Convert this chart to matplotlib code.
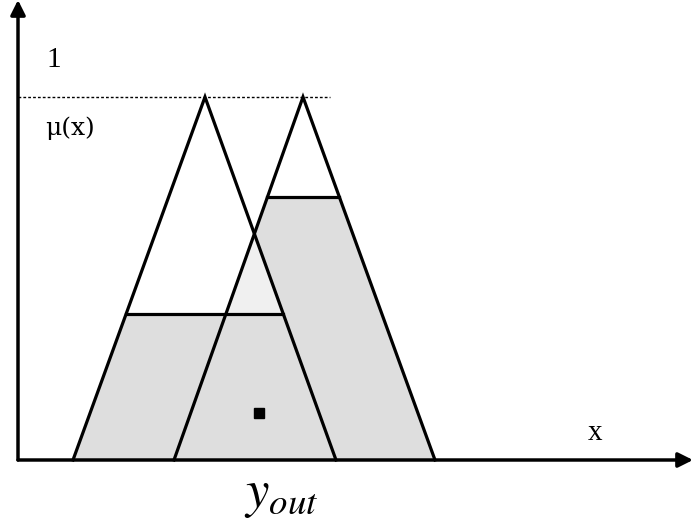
import matplotlib.pyplot as plt
from matplotlib.patches import Polygon

plt.rcParams['mathtext.fontset'] = 'stix'

# triangle membership functions: (left foot, peak, right foot) on the x axis
tri1 = [55, 187, 318]
tri2 = [156, 285, 417]
# clipping levels of the two rules
cut1 = 0.402
cut2 = 0.7245
# centroid marker
y_out = [241, 0.129]
x_max = 675
x_min = -18


def left(t, m):
    return t[0] + (t[1] - t[0]) * m


def right(t, m):
    return t[2] - (t[2] - t[1]) * m


fig = plt.figure(figsize=(6.93, 5.24), dpi=100)
ax = fig.add_axes([0, 0, 1, 1])
ax.set_xlim(x_min, x_max)
ax.set_ylim(-64 / 363, 460 / 363)
ax.axis('off')

gray = '#dedede'
light = '#f0f0f0'

# clipped areas
for t, c in [(tri2, cut2), (tri1, cut1)]:
    ax.add_patch(Polygon([(t[0], 0), (left(t, c), c), (right(t, c), c), (t[2], 0)],
                         closed=True, facecolor=gray, edgecolor='none'))

# overlap above the first cut
m_x = (tri1[2] - tri2[0]) / ((tri2[1] - tri2[0]) + (tri1[2] - tri1[1]))
ax.add_patch(Polygon([(left(tri2, cut1), cut1), (left(tri2, m_x), m_x), (right(tri1, cut1), cut1)],
                     closed=True, facecolor=light, edgecolor='none'))

# triangle outlines
for t in [tri1, tri2]:
    ax.plot([t[0], t[1], t[2]], [0, 1, 0], color='black', lw=2.3, solid_joinstyle='miter')

ax.plot([left(tri1, cut1), right(tri1, cut1)], [cut1, cut1], color='black', lw=2.3)
ax.plot([left(tri2, cut2), right(tri2, cut2)], [cut2, cut2], color='black', lw=2.3)

# dotted line at mu = 1
ax.plot([0, 312], [1, 1], color='black', lw=1, linestyle=(0, (2, 1.5)))

# axes with arrows
ax.annotate('', xy=(0, 460 / 363), xytext=(0, 0),
            arrowprops=dict(arrowstyle='-|>', lw=2.5, mutation_scale=22, color='black',
                            shrinkA=0, shrinkB=0))
ax.annotate('', xy=(x_max, 0), xytext=(0, 0),
            arrowprops=dict(arrowstyle='-|>', lw=2.5, mutation_scale=22, color='black',
                            shrinkA=0, shrinkB=0))

ax.plot(y_out[0], y_out[1], marker='s', color='black', markersize=7)

ax.text(36, (460 - 60) / 363, '1', fontsize=21, family='Liberation Serif', ha='center', va='center')
ax.text(52, (460 - 128) / 363, 'μ(x)', fontsize=18, family='DejaVu Serif', ha='center', va='center')
ax.text(577, (460 - 433) / 363, 'x', fontsize=21, family='Liberation Serif', ha='center', va='center')
ax.text(263, (460 - 494) / 363, '$y_{out}$', fontsize=38, ha='center', va='center')

fig.savefig('out.png', dpi=100)
